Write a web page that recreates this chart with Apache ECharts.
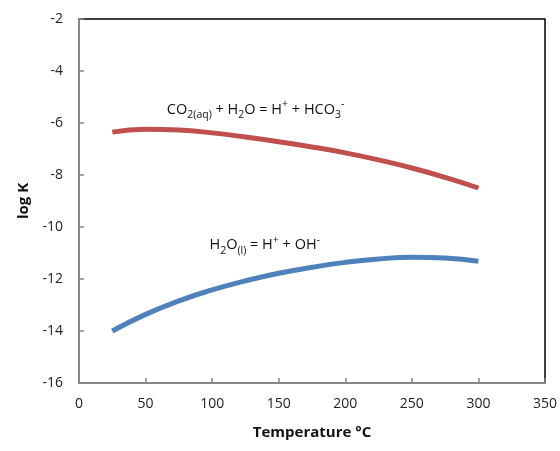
<!DOCTYPE html>
<html>
<head>
<meta charset="utf-8">
<script src="https://cdn.jsdelivr.net/npm/echarts@6/dist/echarts.min.js"></script>
<style>
  html, body { margin: 0; padding: 0; background: #fff; }
  #chart { width: 560px; height: 451px; }
</style>
</head>
<body>
<div id="chart"></div>
<script>
// 温度 (°C)
const temps = [25, 50, 75, 100, 125, 150, 175, 200, 225, 250, 275, 300];
// CO2(aq) + H2O = H+ + HCO3-
const logK_co2 = [-6.35, -6.24, -6.27, -6.38, -6.54, -6.72, -6.92, -7.15, -7.42, -7.73, -8.09, -8.5];
// H2O(l) = H+ + OH-
const logK_h2o = [-14.0, -13.36, -12.84, -12.42, -12.07, -11.78, -11.55, -11.36, -11.23, -11.16, -11.19, -11.32];

const labelFont = 'Open Sans, Liberation Sans, sans-serif';

function pairs(xs, ys) {
    return xs.map((x, i) => [x, ys[i]]);
}

const richStyle = {
    n: { fontSize: 14.5, fontFamily: labelFont, color: '#111', lineHeight: 22, verticalAlign: 'middle' },
    sub: { fontSize: 10.5, fontFamily: labelFont, color: '#111', lineHeight: 22, verticalAlign: 'bottom' },
    sup: { fontSize: 10.5, fontFamily: labelFont, color: '#111', lineHeight: 22, verticalAlign: 'top' }
};

function noteMark(coord, text) {
    return {
        symbol: 'circle',
        symbolSize: 0,
        silent: true,
        data: [{ coord: coord }],
        label: {
            show: true,
            position: 'right',
            distance: 0,
            formatter: text,
            rich: richStyle
        }
    };
}

const chart = echarts.init(document.getElementById('chart'));

chart.setOption({
    animation: false,
    grid: {
        left: 79, right: 14, top: 19, bottom: 68,
        show: true,
        borderColor: '#000',
        borderWidth: 1.5,
        backgroundColor: '#fff'
    },
    xAxis: {
        type: 'value',
        min: 0, max: 350, interval: 50,
        name: 'Temperature °C',
        nameLocation: 'middle',
        nameGap: 42,
        nameTextStyle: { fontSize: 15, fontWeight: 'bold', color: '#111', fontFamily: labelFont },
        axisLine: { lineStyle: { color: '#868686', width: 2 } },
        axisTick: { inside: true, length: 5, lineStyle: { color: '#868686', width: 1.5 } },
        axisLabel: { fontSize: 14, color: '#222', margin: 14, fontFamily: labelFont },
        splitLine: { show: false }
    },
    yAxis: {
        type: 'value',
        min: -16, max: -2, interval: 2,
        name: 'log K',
        nameLocation: 'middle',
        nameGap: 48,
        nameTextStyle: { fontSize: 15, fontWeight: 'bold', color: '#111', fontFamily: labelFont },
        axisLine: { lineStyle: { color: '#868686', width: 2 } },
        axisTick: { inside: true, length: 5, lineStyle: { color: '#868686', width: 1.5 } },
        axisLabel: { fontSize: 14, color: '#222', margin: 16, fontFamily: labelFont },
        splitLine: { show: false }
    },
    series: [
        {
            name: 'CO2',
            type: 'line',
            smooth: 0.5,
            symbol: 'none',
            lineStyle: { color: '#C0504D', width: 5 },
            data: pairs(temps, logK_co2),
            markPoint: noteMark([66, -5.5],
                '{n|CO}{sub|2(aq)}{n| + H}{sub|2}{n|O = H}{sup|+}{n| + HCO}{sub|3}{sup|-}')
        },
        {
            name: 'H2O',
            type: 'line',
            smooth: 0.5,
            symbol: 'none',
            lineStyle: { color: '#4F81BD', width: 5 },
            data: pairs(temps, logK_h2o),
            markPoint: noteMark([98, -10.7],
                '{n|H}{sub|2}{n|O}{sub|(l)}{n| = H}{sup|+}{n| + OH}{sup|-}')
        }
    ]
});
</script>
</body>
</html>
